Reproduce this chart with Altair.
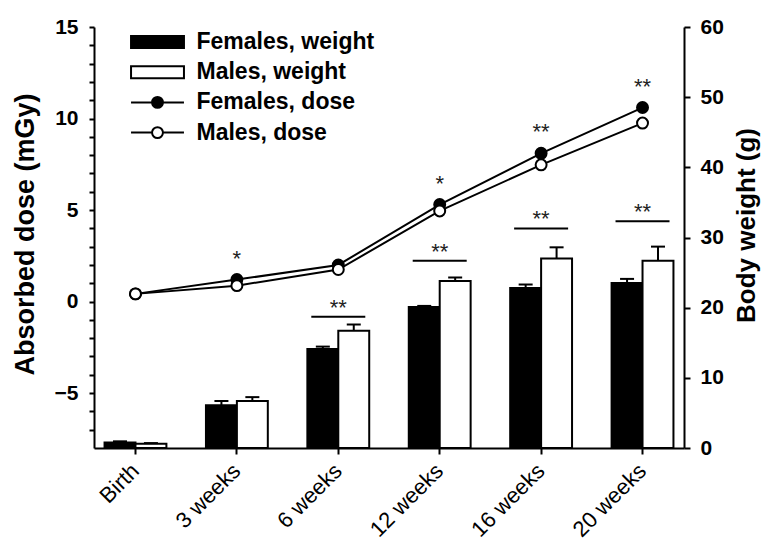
import altair as alt
import pandas as pd

FONT = "Liberation Sans"

times = ["Birth", "3 weeks", "6 weeks", "12 weeks", "16 weeks", "20 weeks"]
sexes = ["Females", "Males"]

female_weight = [0.8, 6.1, 14.1, 20.1, 22.8, 23.5]
female_weight_err = [0.15, 0.6, 0.35, 0.15, 0.5, 0.6]
male_weight = [0.6, 6.7, 16.7, 23.8, 27.0, 26.7]
male_weight_err = [0.1, 0.55, 0.9, 0.5, 1.6, 2.0]

female_dose = [0.42, 1.2, 2.0, 5.3, 8.1, 10.6]
male_dose = [0.42, 0.87, 1.75, 4.95, 7.47, 9.75]

dose_stars = ["", "*", "", "*", "**", "**"]
weight_sig_times = ["6 weeks", "12 weeks", "16 weeks", "20 weeks"]
weight_sig_level = [18.7, 26.7, 31.3, 32.3]
weight_sig_labels = ["**", "**", "**", "**"]

legend_labels = ["Females, weight", "Males, weight", "Females, dose", "Males, dose"]
legend_fills = ["black", "white", "black", "white"]

rect_path = "M-1.89,-0.43H1.89V0.43H-1.89Z"
line_circle_path = ("M-1.89,0H-0.39M0.39,0H1.89"
                    "M-0.39,0A0.39,0.39,0,1,1,0.39,0A0.39,0.39,0,1,1,-0.39,0Z")
legend_shapes = [rect_path, rect_path, line_circle_path, line_circle_path]

wdf = pd.DataFrame({
    "time": times * 2,
    "sex": ["Females"] * 6 + ["Males"] * 6,
    "weight": female_weight + male_weight,
    "err": female_weight_err + male_weight_err,
})
wdf["top"] = wdf["weight"] + wdf["err"]

ddf = pd.DataFrame({
    "time": times * 2,
    "sex": ["Females"] * 6 + ["Males"] * 6,
    "dose": female_dose + male_dose,
})

dstar_df = pd.DataFrame({"time": times, "dose": female_dose, "label": dose_stars})
dstar_df = dstar_df[dstar_df["label"] != ""]

sig_df = pd.DataFrame({"time": weight_sig_times, "weight": weight_sig_level,
                       "label": weight_sig_labels})

legend_df = pd.DataFrame({"series": legend_labels, "time": times[:4], "dose": [0.0] * 4})

x_scale = alt.Scale(type="band", domain=times, paddingInner=0.39, paddingOuter=0.104)
x_axis = alt.Axis(title=None, labelAngle=-45, labelAlign="right", labelBaseline="middle",
                  labelFont=FONT, labelFontSize=22, labelFontWeight="normal", labelColor="black",
                  labelPadding=13, tickSize=6, tickWidth=2, tickColor="black",
                  domainColor="black", domainWidth=2, grid=False)
x_enc = alt.X("time:N", sort=times, scale=x_scale, axis=x_axis, title=None)
xoff = alt.XOffset("sex:N", scale=alt.Scale(domain=sexes, paddingInner=0, paddingOuter=0))

w_scale = alt.Scale(domain=[0, 60], nice=False, zero=True)
w_axis = alt.Axis(orient="right", values=[0, 10, 20, 30, 40, 50, 60],
                  labelFont=FONT, labelFontSize=21, labelFontWeight="bold", labelColor="black",
                  labelPadding=10, tickSize=6, tickWidth=2, tickColor="black",
                  domainColor="black", domainWidth=2, grid=False,
                  titleFont=FONT, titleFontSize=26, titleFontWeight="bold", titleColor="black",
                  titleAngle=270, titleAlign="center", titleBaseline="middle",
                  titleX=62, titleY=198)
W_TITLE = "Body weight (g)"

d_scale = alt.Scale(domain=[-8, 15], nice=False, zero=False)
d_axis = alt.Axis(orient="left", values=list(range(-7, 16)),
                  labelExpr="datum.value % 5 === 0 ? datum.label : ''",
                  labelFont=FONT, labelFontSize=21, labelFontWeight="bold", labelColor="black",
                  labelPadding=11, tickSize=5, tickWidth=2, tickColor="black",
                  domainColor="black", domainWidth=2, grid=False,
                  titleFont=FONT, titleFontSize=27, titleFontWeight="bold", titleColor="black",
                  titleAngle=270, titleAlign="center", titleBaseline="middle",
                  titleX=-69, titleY=207)
D_TITLE = "Absorbed dose (mGy)"


def yw(field):
    return alt.Y(field, scale=w_scale, axis=w_axis, title=W_TITLE)


def yd(field):
    return alt.Y(field, scale=d_scale, axis=d_axis, title=D_TITLE)


sex_fill = alt.condition("datum.sex == 'Females'", alt.value("black"), alt.value("white"))

bars = alt.Chart(wdf).mark_bar(stroke="black", strokeWidth=2).encode(
    x=x_enc, xOffset=xoff, y=yw("weight:Q"), fill=sex_fill,
)
err_rule = alt.Chart(wdf).mark_rule(color="black", strokeWidth=2, opacity=1).encode(
    x=x_enc, xOffset=xoff, y=yw("weight:Q"), y2="top:Q",
)
err_cap = alt.Chart(wdf).mark_tick(color="black", thickness=2, size=14, opacity=1).encode(
    x=x_enc, xOffset=xoff, y=yw("top:Q"),
)
sig_line = alt.Chart(sig_df).mark_tick(color="black", thickness=2, size=54, opacity=1).encode(
    x=x_enc, y=yw("weight:Q"),
)
sig_text = alt.Chart(sig_df).mark_text(font=FONT, fontSize=22, color="#222",
                                       baseline="alphabetic", dy=-2).encode(
    x=x_enc, y=yw("weight:Q"), text="label:N",
)
weight_layer = alt.layer(bars, err_rule, err_cap, sig_line, sig_text)

dose_line = alt.Chart(ddf).mark_line(color="black", strokeWidth=2).encode(
    x=x_enc, y=yd("dose:Q"), detail="sex:N",
)
dose_pts = alt.Chart(ddf).mark_point(shape="circle", size=120, filled=True, opacity=1,
                                     stroke="black", strokeWidth=2).encode(
    x=x_enc, y=yd("dose:Q"), fill=sex_fill,
)
dose_star = alt.Chart(dstar_df).mark_text(font=FONT, fontSize=22, color="#222",
                                          baseline="alphabetic", dy=-14).encode(
    x=x_enc, y=yd("dose:Q"), text="label:N",
)

leg_props = dict(title=None, orient="none", legendX=36, legendY=0,
                 symbolSize=784, symbolStrokeWidth=2, symbolStrokeColor="black",
                 symbolOffset=12.5, labelOffset=24, rowPadding=3.2, labelLimit=400,
                 labelFont=FONT, labelFontSize=23, labelFontWeight="bold", labelColor="black")
legend_layer = alt.Chart(legend_df).transform_filter("false").mark_point(
    filled=True, strokeWidth=2, opacity=1).encode(
    x=x_enc, y=yd("dose:Q"),
    shape=alt.Shape("series:N", scale=alt.Scale(domain=legend_labels, range=legend_shapes),
                    legend=alt.Legend(**leg_props)),
    fill=alt.Fill("series:N", scale=alt.Scale(domain=legend_labels, range=legend_fills),
                  legend=alt.Legend(**leg_props)),
    stroke=alt.Stroke("series:N", scale=alt.Scale(domain=legend_labels, range=["black"] * 4),
                      legend=alt.Legend(**leg_props)),
)

dose_layer = alt.layer(dose_line, dose_pts, dose_star, legend_layer)

chart = alt.layer(weight_layer, dose_layer).resolve_scale(y="independent").properties(
    width=590, height=421,
    padding={"left": 86, "top": 19, "right": 79, "bottom": 94},
    autosize=alt.AutoSizeParams(type="none"),
).configure_view(stroke=None)

chart.save("out.html", embed_options={"renderer": "svg", "actions": False})
